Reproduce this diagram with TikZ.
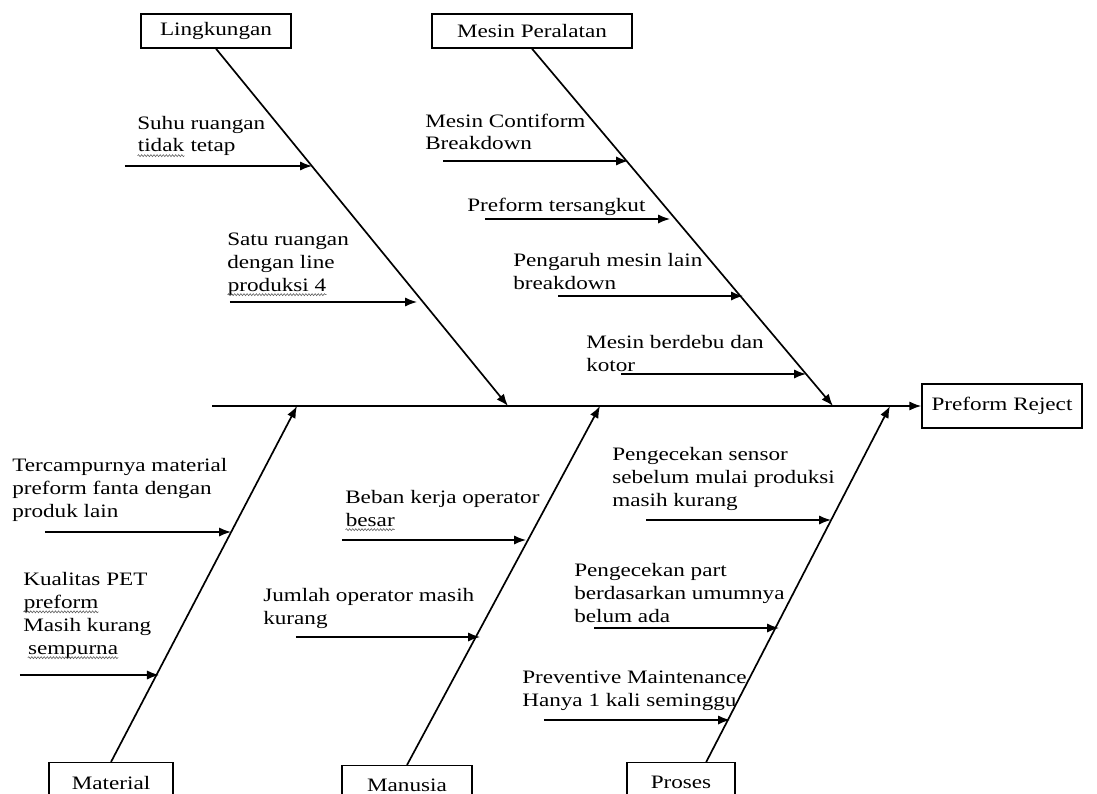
\documentclass[tikz,border=0pt]{standalone}
\usepackage{fontspec}
\setmainfont{Liberation Serif}[FakeStretch=1.22]
\usetikzlibrary{arrows.meta,decorations.pathmorphing}

% wavy underline under a word
\newcommand{\squig}[1]{\tikz[baseline=(w.base)]{\node[inner sep=0pt] (w) {#1};
    \draw[gray!70!black, line width=0.4pt, decorate, decoration={snake, amplitude=0.7pt, segment length=2.2pt}]
    ([yshift=-2.6pt]w.base west) -- ([yshift=-2.6pt]w.base east);}}

\begin{document}
\begin{tikzpicture}[x=0.025cm, y=-0.025cm, >={Latex[length=3mm,width=2.3mm]},
    every node/.style={font=\fontsize{13.5}{16.3}\selectfont},
    box/.style={rectangle, draw, line width=1pt, minimum height=0.85cm, inner sep=2pt},
    cause/.style={anchor=base west, align=left, inner sep=0pt},
    bone/.style={->, line width=1.2pt},
    sub/.style={->, line width=1pt}]
    \clip (0,0) rectangle (1097,794);

    % head and spine
    \node[box, minimum width=4cm, minimum height=1.1cm] (effect) at (1002,406) {Preform Reject};
    \coordinate (tail) at (212,406);
    \draw[bone] (tail) -- (tail -| effect.west);

    % category boxes
    \node[box, minimum width=3.75cm] (lingk) at (216,31) {Lingkungan};
    \node[box, minimum width=5cm] (mesin) at (532,31) {Mesin Peralatan};
    \node[box, minimum width=3.1cm, minimum height=1cm, anchor=north] (material) at (111,762) {Material};
    \node[box, minimum width=3.25cm, minimum height=1cm, anchor=north] (manusia) at (407,765) {Manusia};
    \node[box, minimum width=2.7cm, minimum height=1cm, anchor=north] (proses) at (681,762) {Proses};

    % where the bones meet the spine
    \coordinate (eLingk) at (508,406);
    \coordinate (eMesin) at (833,406);
    \coordinate (eMaterial) at (297,406);
    \coordinate (eManusia) at (600,406);
    \coordinate (eProses) at (890,406);

    \draw[bone] (lingk.south) -- (eLingk);
    \draw[bone] (mesin.south) -- (eMesin);
    \draw[bone] (material.north) -- (eMaterial);
    \draw[bone] (manusia.north) -- (eManusia);
    \draw[bone] ([xshift=0.63cm]proses.north) -- (eProses);

    % Lingkungan (node placed at the baseline of its last line)
    \node[cause] (suhu) at (137,152) {Suhu ruangan\\\squig{tidak} tetap};
    \node[cause] (satu) at (227,291) {Satu ruangan\\dengan line\\\squig{produksi 4}};
    \coordinate (tSuhu) at (312,166);
    \coordinate (tSatu) at (417,302);
    \draw[sub] ([xshift=-4.68cm]tSuhu) -- (tSuhu);
    \draw[sub] ([xshift=-4.68cm]tSatu) -- (tSatu);

    % Mesin Peralatan
    \node[cause] (contiform) at (425,150) {Mesin Contiform\\Breakdown};
    \node[cause] (sangkut) at (467,211) {Preform tersangkut};
    \node[cause] (pengaruh) at (513,289) {Pengaruh mesin lain\\breakdown};
    \node[cause] (debu) at (586,371) {Mesin berdebu dan\\kotor};
    \coordinate (tContiform) at (628,161);
    \coordinate (tSangkut) at (670,219);
    \coordinate (tPengaruh) at (743,296);
    \coordinate (tDebu) at (806,374);
    \draw[sub] ([xshift=-4.62cm]tContiform) -- (tContiform);
    \draw[sub] ([xshift=-4.62cm]tSangkut) -- (tSangkut);
    \draw[sub] ([xshift=-4.62cm]tPengaruh) -- (tPengaruh);
    \draw[sub] ([xshift=-4.62cm]tDebu) -- (tDebu);

    % Material
    \node[cause] (campur) at (12,517) {Tercampurnya material\\preform fanta dengan\\produk lain};
    \node[cause] (kualitas) at (23,654) {Kualitas PET\\\squig{preform}\\Masih kurang\\\hspace*{3pt}\squig{sempurna}};
    \coordinate (tCampur) at (231,532);
    \coordinate (tKualitas) at (159,675);
    \draw[sub] ([xshift=-4.65cm]tCampur) -- (tCampur);
    \draw[sub] ([xshift=-3.48cm]tKualitas) -- (tKualitas);

    % Manusia
    \node[cause] (beban) at (345,526) {Beban kerja operator\\\squig{besar}};
    \node[cause] (jumlah) at (263,624) {Jumlah operator masih\\kurang};
    \coordinate (tBeban) at (526,540);
    \coordinate (tJumlah) at (480,637);
    \draw[sub] ([xshift=-4.6cm]tBeban) -- (tBeban);
    \draw[sub] ([xshift=-4.6cm]tJumlah) -- (tJumlah);

    % Proses
    \node[cause] (sensor) at (612,506) {Pengecekan sensor\\sebelum mulai produksi\\masih kurang};
    \node[cause] (part) at (574,622) {Pengecekan part\\berdasarkan umumnya\\belum ada};
    \node[cause] (preventive) at (522,706) {Preventive Maintenance\\Hanya 1 kali seminggu};
    \coordinate (tSensor) at (831,520);
    \coordinate (tPart) at (779,628);
    \coordinate (tPreventive) at (730,720);
    \draw[sub] ([xshift=-4.62cm]tSensor) -- (tSensor);
    \draw[sub] ([xshift=-4.62cm]tPart) -- (tPart);
    \draw[sub] ([xshift=-4.65cm]tPreventive) -- (tPreventive);
\end{tikzpicture}
\end{document}
